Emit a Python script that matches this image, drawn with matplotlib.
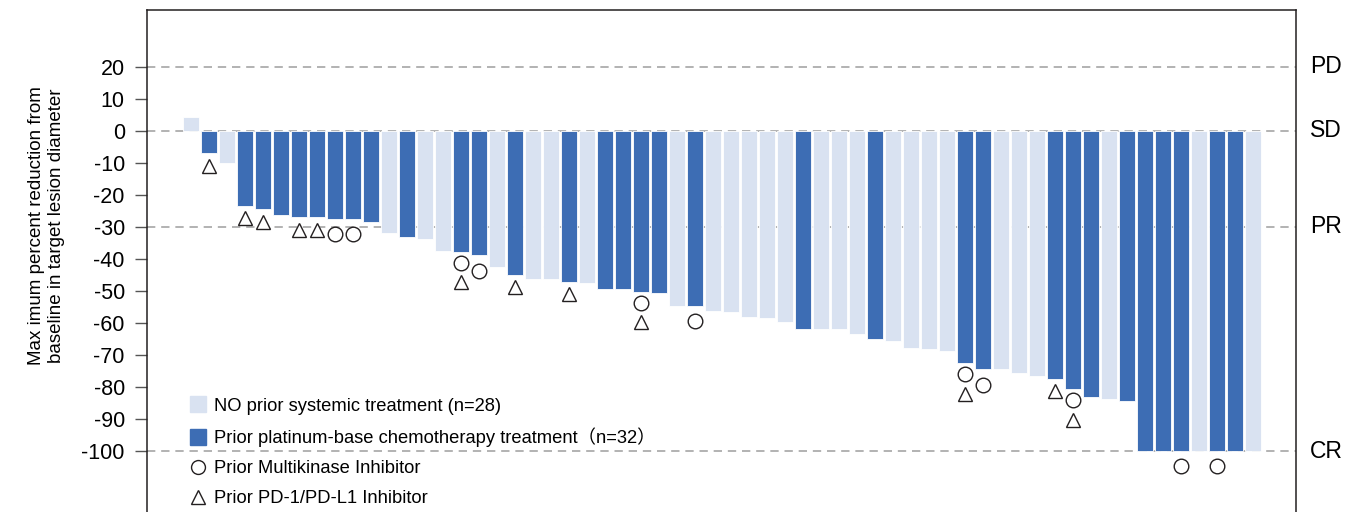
import numpy as np
import matplotlib
matplotlib.use("Agg")
import matplotlib.pyplot as plt
from matplotlib.lines import Line2D

plt.rcParams["font.family"] = ["Liberation Sans", "Noto Sans CJK SC"]

# --- données ---
changes = [4.5, -7, -10, -23.5, -24.5, -26.3, -27, -27, -27.5, -27.5,
           -28.5, -32, -33, -33.6, -37.6, -37.7, -38.8, -42.6, -45, -46.4,
           -46.4, -47.1, -47.6, -49.5, -49.5, -50.2, -50.7, -54.7, -54.7, -56.1,
           -56.6, -58, -58.3, -59.6, -62, -62, -62, -63.5, -65.1, -65.5,
           -67.7, -68.2, -68.8, -72.6, -74.5, -74.5, -75.7, -76.6, -77.6, -80.7,
           -83, -83.6, -84.3, -100, -100, -100, -100, -100, -100, -100]
# N = aucun traitement systémique, P = chimio à base de platine
groups = "NPNPPPPPPPPNPNNPPNPNNPNPPPPNPNNNNNPNNNPNNNNPPNNNPPPNPPPPNPPN"
multikinase = [8, 9, 15, 16, 25, 28, 43, 44, 49, 55, 57]
pd1 = [1, 3, 4, 6, 7, 15, 18, 21, 25, 43, 48, 49]

ref_levels = [20, 0, -30, -100]
ref_labels = ["PD", "SD", "PR", "CR"]
yticks = list(range(20, -101, -10))

legend_labels = ["NO prior systemic treatment (n=28)",
                 "Prior platinum-base chemotherapy treatment\uff08n=32\uff09",
                 "Prior Multikinase Inhibitor",
                 "Prior PD-1/PD-L1 Inhibitor"]

light = "#d9e2f1"
dark = "#3d6db4"
ink = "#231f20"

fig = plt.figure(figsize=(13.49, 5.12), dpi=100)
ax = fig.add_axes([147 / 1349, 0.0, (1296 - 147) / 1349, 1 - 10 / 512])

x = np.arange(len(changes))
vals = np.array(changes)
colors = [dark if g == "P" else light for g in groups]
ax.bar(x, vals, width=0.9, color=colors, edgecolor="white", linewidth=0.6, zorder=2)

# lignes de référence
for lv in ref_levels:
    ax.axhline(lv, color="#a6a6a6", lw=1.2, ls=(0, (5, 3.5)), zorder=1)

# marqueurs sous les barres
bottoms = np.minimum(vals, 0)
for i in multikinase:
    off = 3.4 if i in pd1 else 4.8
    ax.plot(i, bottoms[i] - off, marker="o", ms=10.5, mfc="white", mec=ink,
            mew=1.0, ls="none", zorder=3)
for i in pd1:
    off = 9.5 if i in multikinase else 3.8
    ax.plot(i, bottoms[i] - off, marker="^", ms=10.5, mfc="white", mec=ink,
            mew=1.0, ls="none", zorder=3)

ax.set_xlim(-2.44, 61.39)
ax.set_ylim(-119.06, 37.8)
ax.set_yticks(yticks)
ax.set_yticklabels([str(t) for t in yticks])
ax.tick_params(axis="y", length=9, width=1.0, color="#555555", pad=7,
               labelsize=15.5)
ax.tick_params(axis="x", bottom=False, labelbottom=False)
ax.spines["bottom"].set_visible(False)
for s in ["left", "right", "top"]:
    ax.spines[s].set_color(ink)
    ax.spines[s].set_linewidth(1.1)

for lv, lab in zip(ref_levels, ref_labels):
    ax.text(1.012, lv, lab, transform=ax.get_yaxis_transform(),
            ha="left", va="center", fontsize=16.5)

ax.set_ylabel("Max imum percent reduction from\nbaseline in target lesion diameter",
              fontsize=13.5, linespacing=1.3)
ax.yaxis.set_label_coords(-0.071, 0.57)

handles = [
    Line2D([], [], marker="s", ms=11, color=light, ls="none"),
    Line2D([], [], marker="s", ms=11, color=dark, ls="none"),
    Line2D([], [], marker="o", ms=10, mfc="white", mec=ink, mew=1.0, ls="none"),
    Line2D([], [], marker="^", ms=10, mfc="white", mec=ink, mew=1.0, ls="none"),
]
ax.legend(handles, legend_labels, loc="lower left", bbox_to_anchor=(0.036, 0.01),
          frameon=False, fontsize=13.2, handlelength=1.0, handletextpad=0.42,
          labelspacing=0.7, borderaxespad=0, borderpad=0)

fig.savefig("out.png", dpi=100)
